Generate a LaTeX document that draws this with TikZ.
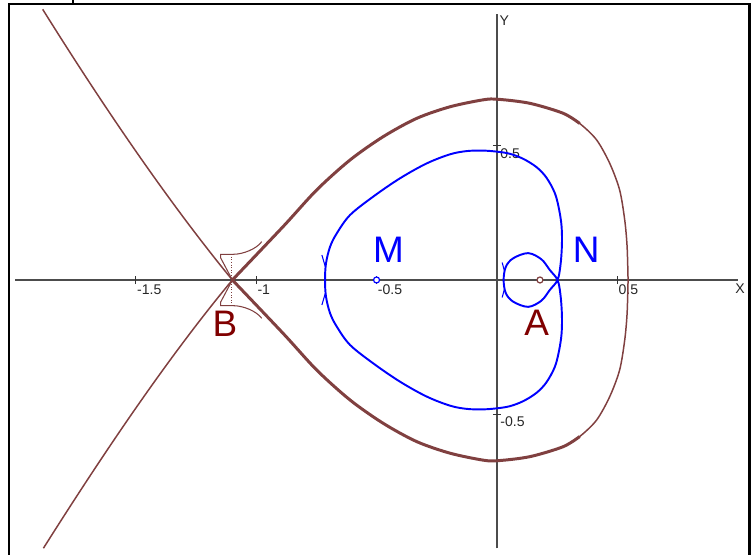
\documentclass[tikz,border=0pt]{standalone}
\usepackage{fontspec}
\setmainfont{Liberation Sans}
\usepackage{xcolor}
\usepackage{tikz}
\definecolor{marronlugar}{RGB}{128, 64, 64}
\definecolor{granate}{RGB}{128, 0, 0}

\begin{document}
\begin{tikzpicture}[
  x=4.814cm, y=5.37cm,
  eje/.style   = {black!70, line width=0.9pt},
  marca/.style = {black!80, line width=0.6pt},
  num/.style   = {font=\fontsize{8}{9}\selectfont, text=black!85,
                  inner sep=0pt, anchor=north west},
  letra/.style = {font=\fontsize{21}{25}\selectfont, inner sep=0pt},
  azul/.style  = {blue, line width=1.1pt},
  lazo/.style  = {marronlugar, line width=1.7pt},
  rama/.style  = {marronlugar, line width=0.85pt},
  punto/.style = {circle, fill=white, line width=0.7pt,
                  minimum size=0.12cm, inner sep=0pt}
]
\useasboundingbox (-2.0644,-1.0242) rectangle (1.0557,1.0428);

% Marco
\draw[line width=1.6pt] (-2.027,-1.0242) -- (-2.027,1.028) -- (1.049,1.028) -- (1.049,-1.0242);
\draw[line width=1.2pt] (-1.761,1.028) -- (-1.761,1.0428);

% Ejes
\coordinate (xi) at (-2,0);
\coordinate (xf) at (1,0);
\coordinate (yi) at (0,-1);
\coordinate (yf) at (0,0.99);
\draw[eje] (xi) -- (xf);
\draw[eje] (yi) -- (yf);
\node[num] (ejeX) at (0.989,-0.012) {X};
\node[num] (ejeY) at (0.010,0.985) {Y};
\foreach \t [count=\i] in {-1.5,-1,-0.5,0.5} {
  \draw[marca] (\t,-0.015) -- (\t,0.015);
  \node[num] (nx\i) at (\t+0.004,-0.018) {\t};
}
\foreach \t [count=\i] in {0.5,-0.5} {
  \draw[marca] (-0.017,\t) -- (0.017,\t);
  \node[num] (ny\i) at (0.013,\t-0.009) {\t};
}

% Curva azul (lazo interior y exterior)
\draw[azul] plot[smooth cycle, tension=0.55] coordinates {
  (0.252,0) (0.264,0.054) (0.270,0.126) (0.269,0.197) (0.259,0.260)
  (0.241,0.323) (0.206,0.381) (0.165,0.420) (0.110,0.451) (0.054,0.470)
  (0,0.478) (-0.060,0.482) (-0.126,0.480) (-0.195,0.468) (-0.292,0.434)
  (-0.402,0.379) (-0.513,0.311) (-0.610,0.242) (-0.665,0.174)
  (-0.693,0.124) (-0.710,0.062) (-0.714,0)
  (-0.710,-0.062) (-0.693,-0.124) (-0.665,-0.174) (-0.610,-0.242)
  (-0.513,-0.311) (-0.402,-0.379) (-0.292,-0.434) (-0.195,-0.468)
  (-0.126,-0.480) (-0.060,-0.482) (0,-0.478) (0.054,-0.470) (0.110,-0.451)
  (0.165,-0.420) (0.206,-0.381) (0.241,-0.323) (0.259,-0.260)
  (0.269,-0.197) (0.270,-0.126) (0.264,-0.054)
  (0.252,0) (0.220,0.037) (0.185,0.077) (0.130,0.100) (0.068,0.081)
  (0.037,0.049) (0.028,0) (0.037,-0.049) (0.068,-0.081) (0.130,-0.100)
  (0.185,-0.077) (0.220,-0.037)};

% Curva marron (lazo y ramas)
\coordinate (B) at (-1.099,0);
\coordinate (finSup) at (-1.887,1.008);
\coordinate (finInf) at (-1.884,-0.999);
\draw[rama] (B) .. controls (-1.359,0.284) and (-1.627,0.635) .. (finSup);
\draw[rama] (B) .. controls (-1.359,-0.280) and (-1.624,-0.630) .. (finInf);
\foreach \s in {1,-1} {
  \begin{scope}[yscale=\s]
    \draw[lazo] plot[smooth] coordinates {
      (-1.099,0) (-0.887,0.200) (-0.749,0.335) (-0.610,0.447) (-0.472,0.534)
      (-0.333,0.602) (-0.195,0.645) (-0.057,0.671) (0.005,0.673)
      (0.137,0.658) (0.275,0.621) (0.344,0.583)};
    \draw[rama] plot[smooth] coordinates {
      (0.275,0.621) (0.344,0.583) (0.414,0.522) (0.469,0.434) (0.510,0.335)
      (0.531,0.224) (0.541,0.124) (0.545,0)};
    \draw[rama, line width=0.6pt] (-1.099,0) -- (-1.1475,0.082) -- (-1.1475,0.0957)
      -- (-1.0951,0.0957) .. controls (-1.055,0.0957) and (-1.0,0.115) .. (-0.977,0.1426);
    \draw[marronlugar, densely dotted, line width=0.5pt] (-1.1018,0.087) -- (-1.1018,0.006);
    \draw[blue, line width=0.6pt] (-0.713,0.050) -- (-0.727,0.093);
    \draw[blue, line width=0.6pt] (0.031,0.035) -- (0.022,0.065);
  \end{scope}
}

% Puntos y letras
\node[punto, draw=blue]        (M) at (-0.5,0)  {};
\node[punto, draw=marronlugar] (A) at (0.179,0) {};
\node[letra, text=blue]    (etM) at (-0.4503,0.1117)  {M};
\node[letra, text=blue]    (etN) at (0.3714,0.1117)   {N};
\node[letra, text=granate] (etA) at (0.1654,-0.1613)  {A};
\node[letra, text=granate] (etB) at (-1.1296,-0.1639) {B};

\end{tikzpicture}
\end{document}
